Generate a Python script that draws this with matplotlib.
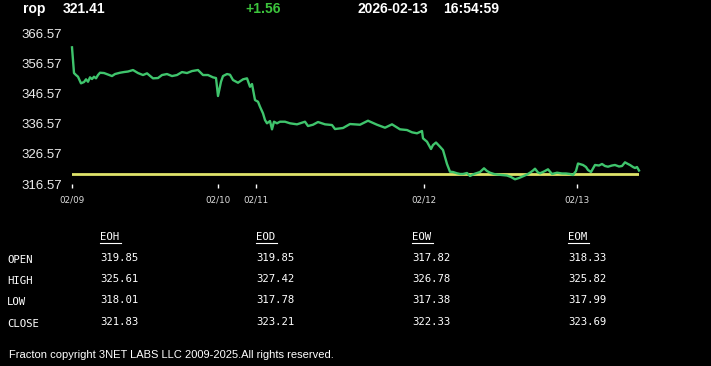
import matplotlib
matplotlib.use("Agg")
import matplotlib.pyplot as plt
from matplotlib.lines import Line2D

W, H = 711, 366

symbol = "rop"
last_price = "321.41"
change = "+1.56"
stamp_date = "2026-02-13"
stamp_time = "16:54:59"
prev_close = 319.85

# sample index (minutes-ish) and price
idx = [0, 1, 2, 4, 6, 9, 12, 14, 16, 18, 20, 22, 24, 26, 28, 32, 36, 40, 43, 48,
       52, 56, 61, 66, 71, 75, 81, 86, 90, 95, 100, 105, 110, 115, 120, 126, 131, 136, 141, 144,
       146, 149, 151, 155, 158, 161, 166, 171, 175, 178, 180, 183, 186, 188, 191, 193, 195, 198, 200, 202,
       205, 208, 213, 218, 225, 230, 233, 236, 241, 246, 253, 260, 263, 271, 278, 288, 296, 305, 313, 320,
       328, 335, 340, 345, 350, 351, 355, 359, 361, 364, 368, 371, 375, 378, 381, 385, 388, 391, 395, 398,
       402, 405, 408, 412, 415, 418, 422, 425, 430, 435, 439, 443, 447, 451, 455, 458, 461, 463, 466, 468,
       472, 476, 480, 485, 490, 494, 498, 501, 504, 506, 511, 514, 516, 519, 523, 527, 530, 533, 536, 540,
       543, 547, 550, 553, 556, 558, 561, 563, 565, 567]
price = [361.94, 357.72, 353.41, 352.75, 352.18, 349.99, 350.42, 351.32, 350.52, 351.98,
         351.42, 352.18, 351.65, 352.75, 353.51, 353.41, 352.91, 352.41, 353.08, 353.51,
         353.74, 353.91, 354.41, 353.41, 352.75, 353.31, 351.65, 351.75, 352.75, 353.08,
         352.41, 352.75, 353.74, 353.41, 354.07, 354.41, 352.75, 352.75, 351.98, 351.75,
         345.78, 350.52, 352.41, 353.08, 352.85, 351.09, 350.19, 351.32, 351.65, 348.86,
         349.76, 344.45, 343.88, 342.23, 340.03, 337.81, 336.72, 337.48, 334.72, 337.25,
         336.72, 337.25, 337.25, 336.72, 336.38, 336.92, 337.25, 335.82, 336.25, 337.15,
         336.38, 336.15, 334.82, 335.16, 336.48, 336.25, 337.58, 336.25, 335.26, 336.38,
         334.72, 334.49, 333.73, 333.40, 334.16, 331.74, 330.61, 328.19, 329.51, 330.34,
         328.95, 327.85, 323.21, 320.65, 320.55, 320.12, 319.89, 319.89, 320.22, 319.23,
         319.89, 320.22, 320.55, 321.78, 320.88, 320.32, 319.89, 319.72, 319.56, 319.39,
         318.89, 318.13, 318.56, 319.13, 319.72, 320.32, 321.05, 321.65, 320.39, 320.12,
         320.72, 321.45, 319.89, 320.32, 320.06, 320.06, 319.89, 319.56, 320.88, 323.37,
         322.88, 322.21, 321.22, 320.55, 322.88, 322.71, 323.21, 322.54, 322.31, 322.71,
         322.88, 322.38, 322.54, 323.77, 323.21, 322.88, 322.21, 321.88, 322.21, 321.05]

date_ticks = [0, 146, 184, 352, 505]
date_labels = ["02/09", "02/10", "02/11", "02/12", "02/13"]
y_ticks = [316.57, 326.57, 336.57, 346.57, 356.57, 366.57]

cols = ["EOH", "EOD", "EOW", "EOM"]
rows = ["OPEN", "HIGH", "LOW", "CLOSE"]
table = [["319.85", "319.85", "317.82", "318.33"],
         ["325.61", "327.42", "326.78", "325.82"],
         ["318.01", "317.78", "317.38", "317.99"],
         ["321.83", "323.21", "322.33", "323.69"]]

footer = "Fracton copyright 3NET LABS LLC 2009-2025.All rights reserved."


def fx(x):
    return x / W


def fy(y):
    return 1 - y / H


fig = plt.figure(figsize=(W / 100, H / 100), dpi=100, facecolor="black")

# plot area: x 72..639 px, y 316.57 at 184 px, 366.57 at 33.4 px
ax = fig.add_axes([fx(72), fy(184), fx(639) - fx(72), fy(33.4) - fy(184)])
ax.set_facecolor("black")
ax.set_xlim(0, 567)
ax.set_ylim(316.57, 366.57)
for s in ax.spines.values():
    s.set_visible(False)

ax.axhline(prev_close, color="#dfe36a", lw=2, zorder=2)
ax.plot(idx, price, color="#3fc46c", lw=1.7, zorder=3, clip_on=False)

ax.set_yticks(y_ticks)
ax.set_yticklabels([f"{v:.2f}" for v in y_ticks], color="#ececec",
                   family="Liberation Sans", fontsize=9.5)
ax.tick_params(axis="y", length=0, pad=7)

ax.set_xticks(date_ticks)
ax.set_xticklabels(date_labels, color="#dddddd", family="DejaVu Sans", fontsize=6.3)
ax.tick_params(axis="x", length=3, width=1, color="white", direction="out", pad=5)

# header
hdr = dict(color="white", fontsize=10, fontweight="bold", family="Liberation Sans", va="center")
fig.text(fx(23), fy(9), symbol, **hdr)
fig.text(fx(63), fy(9), last_price, **hdr)
fig.text(fx(245), fy(9), change, **{**hdr, "color": "#3cc43c"})
fig.text(fx(357), fy(9), stamp_date, **hdr)
fig.text(fx(443), fy(9), stamp_time, **hdr)

# table of OHLC
mono = dict(color="white", fontsize=7.7, family="DejaVu Sans Mono", va="center")
col_x = [100, 256, 412, 568]
row_y = [260, 281, 302, 324]
for c, x in zip(cols, col_x):
    fig.text(fx(x), fy(237), c, **mono)
    fig.lines.append(Line2D([fx(x), fx(x + 21)], [fy(243), fy(243)],
                            transform=fig.transFigure, color="white", lw=0.8))
for r, y in zip(rows, row_y):
    fig.text(fx(7), fy(y), r, **mono)
for i, y in enumerate(row_y):
    for j, x in enumerate(col_x):
        fig.text(fx(x), fy(y - 2), table[i][j], **mono)

fig.text(fx(9), fy(355), footer, color="white", fontsize=8.0,
         family="Liberation Sans", va="center")

fig.savefig("out.png", dpi=100, facecolor="black")
